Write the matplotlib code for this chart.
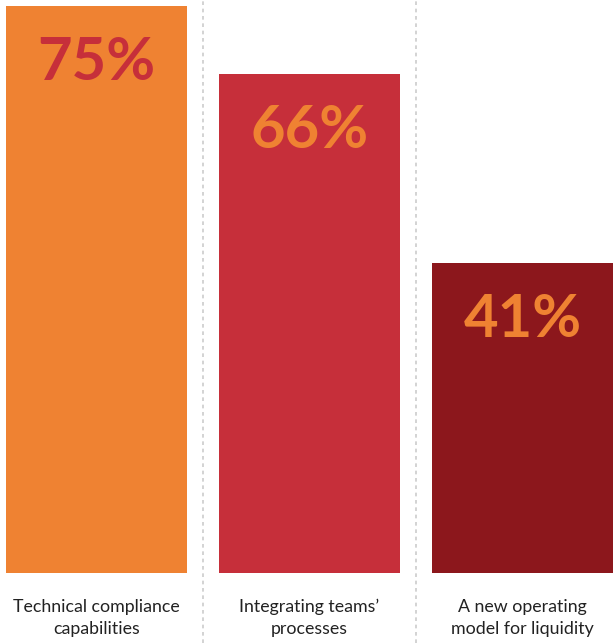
import matplotlib.pyplot as plt
from matplotlib.transforms import blended_transform_factory

categories = ["Technical compliance\ncapabilities",
              "Integrating teams’\nprocesses",
              "A new operating\nmodel for liquidity"]
values = [75, 66, 41]
bar_colors = ["#EF8232", "#C62F3A", "#8C171C"]
label_colors = ["#C62F3A", "#EF8232", "#EF8232"]

fig = plt.figure(figsize=(6.15, 6.43), dpi=100)
# axes: full width, baseline at y=573px from the top
ax = fig.add_axes([0, 70 / 643, 1, 573 / 643])
ax.set_xlim(-0.453, 2.434)
ax.set_ylim(0, 75.8)
ax.axis('off')

x = range(len(values))
ax.bar(x, values, width=0.85, color=bar_colors, zorder=2)

# big percentages inside the bars
for i, v in enumerate(values):
    ax.text(i, v - 7.5, "{}%".format(v), ha='center', va='center',
            color=label_colors[i], fontsize=43, fontweight='bold',
            family='Lato', zorder=3)

# dashed separators running the full height of the figure
tr = blended_transform_factory(ax.transData, fig.transFigure)
for sx in [0.5, 1.5]:
    ax.plot([sx, sx], [0, 1], transform=tr, clip_on=False,
            color='#cccccc', lw=1.2, ls=(0, (2.2, 2.2)), zorder=1)

# category labels under the bars
for i, c in enumerate(categories):
    ax.text(i, (643 - 618) / 643, c, transform=tr, ha='center', va='center',
            fontsize=12.8, family='Lato', color='#222222', linespacing=1.5)

fig.savefig("out.png", dpi=100)
